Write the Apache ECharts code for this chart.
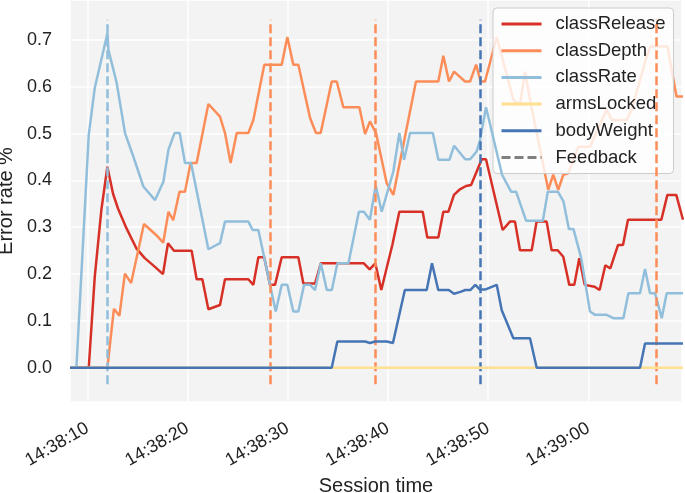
<!DOCTYPE html>
<html><head><meta charset="utf-8">
<script src="https://cdn.jsdelivr.net/npm/echarts@6/dist/echarts.min.js"></script>
<style>html,body{margin:0;padding:0;background:#fff}#c{width:685px;height:493px}</style>
</head><body><div id="c"></div>
<script>
// time in seconds after 14:38:00, value = error rate
const classRelease = [[8.27,0],[10.14,0],[10.74,0.194],[11.4,0.337],[12.0,0.429],[12.56,0.372],[13.06,0.340],[13.9,0.298],[14.89,0.255],[15.73,0.234],[16.72,0.216],[17.55,0.200],[18.05,0.266],[18.65,0.250],[20.41,0.250],[20.91,0.189],[21.48,0.189],[22.08,0.125],[23.24,0.134],[23.74,0.189],[26.07,0.189],[26.57,0.177],[27.07,0.236],[27.65,0.236],[28.23,0.177],[28.73,0.177],[29.4,0.236],[31.06,0.236],[31.56,0.180],[32.73,0.180],[33.3,0.223],[37.6,0.223],[38.18,0.210],[38.74,0.223],[39.34,0.166],[39.94,0.219],[40.44,0.262],[41.14,0.333],[43.47,0.333],[43.93,0.278],[45.03,0.278],[45.53,0.333],[46.03,0.333],[46.59,0.369],[47.19,0.381],[47.79,0.388],[48.3,0.39],[48.86,0.419],[49.36,0.445],[49.79,0.445],[51.45,0.294],[52.18,0.312],[52.68,0.312],[53.18,0.251],[54.35,0.251],[54.84,0.312],[55.84,0.312],[56.34,0.251],[56.94,0.251],[57.5,0.237],[58.1,0.177],[58.6,0.177],[59.1,0.234],[59.64,0.177],[60.63,0.173],[61.13,0.166],[61.7,0.219],[62.2,0.212],[62.96,0.262],[63.46,0.262],[63.96,0.316],[67.29,0.316],[67.89,0.369],[68.78,0.369],[69.45,0.316]];
const classDepth = [[8.27,0],[12.0,0],[12.65,0.126],[13.2,0.111],[13.75,0.201],[14.37,0.181],[15.65,0.307],[16.89,0.283],[17.57,0.267],[18.1,0.333],[18.57,0.315],[19.2,0.376],[19.75,0.376],[20.3,0.437],[20.91,0.437],[22.08,0.563],[23.24,0.536],[23.74,0.501],[24.3,0.437],[24.91,0.501],[26.07,0.501],[26.57,0.529],[27.66,0.647],[29.4,0.647],[29.96,0.706],[30.56,0.647],[31.06,0.647],[32.23,0.533],[32.82,0.501],[33.29,0.501],[34.39,0.611],[34.89,0.611],[35.55,0.556],[37.15,0.556],[37.72,0.499],[38.21,0.526],[38.81,0.501],[39.88,0.394],[40.54,0.369],[42.8,0.611],[45.03,0.611],[45.53,0.666],[46.1,0.611],[46.6,0.632],[47.7,0.611],[48.2,0.611],[48.8,0.647],[49.26,0.611],[49.69,0.611],[50.86,0.706],[52.52,0.572],[53.18,0.561],[53.68,0.632],[54.18,0.572],[56.0,0.380],[56.5,0.412],[57.0,0.380],[57.5,0.412],[58.0,0.415],[59.0,0.472],[60.17,0.472],[60.84,0.504],[61.84,0.551],[62.34,0.529],[63.83,0.529],[64.33,0.551],[65.83,0.665],[66.2,0.686],[67.9,0.686],[68.8,0.579],[69.45,0.579]];
const classRate = [[8.27,0],[8.91,0],[10.14,0.497],[10.74,0.597],[12.01,0.714],[12.10,0.679],[12.93,0.608],[13.76,0.501],[14.59,0.451],[15.59,0.387],[16.76,0.358],[17.59,0.397],[18.09,0.465],[18.70,0.501],[19.22,0.501],[19.75,0.437],[20.35,0.437],[22.08,0.253],[23.24,0.266],[23.74,0.312],[26.07,0.312],[26.5,0.294],[27.07,0.294],[28.8,0.120],[29.4,0.177],[29.96,0.177],[30.56,0.120],[31.06,0.120],[31.63,0.177],[32.23,0.177],[32.73,0.166],[33.3,0.223],[33.9,0.166],[34.4,0.166],[34.96,0.223],[36.06,0.223],[37.1,0.333],[37.6,0.333],[38.2,0.316],[38.78,0.389],[39.38,0.333],[40.54,0.419],[41.14,0.501],[41.61,0.444],[42.21,0.501],[44.48,0.501],[45.04,0.444],[46.14,0.444],[46.61,0.474],[47.71,0.445],[48.21,0.445],[48.86,0.462],[49.19,0.486],[49.79,0.556],[51.39,0.412],[52.29,0.376],[52.79,0.376],[53.79,0.314],[55.46,0.314],[55.96,0.376],[56.96,0.376],[57.52,0.355],[58.06,0.296],[58.52,0.296],[59.29,0.234],[60.17,0.120],[60.67,0.113],[61.84,0.113],[62.5,0.106],[63.5,0.106],[64.0,0.159],[65.16,0.159],[65.66,0.211],[66.16,0.159],[66.66,0.159],[67.33,0.106],[67.82,0.159],[69.45,0.159]];
const armsLocked = [[8.27,0],[69.45,0]];
const bodyWeight = [[8.27,0],[34.39,0],[34.95,0.056],[37.72,0.056],[38.22,0.053],[38.72,0.056],[39.88,0.056],[40.5,0.053],[41.69,0.166],[43.87,0.166],[44.4,0.223],[45.02,0.166],[46.07,0.166],[46.6,0.158],[47.23,0.162],[47.73,0.166],[48.22,0.166],[48.72,0.177],[49.19,0.167],[49.69,0.167],[50.86,0.177],[51.36,0.123],[52.52,0.063],[54.18,0.063],[54.85,0],[65.16,0],[65.66,0.052],[69.45,0.052]];
const feedbackTimes = [12.0, 28.26, 38.78, 49.24, 66.78];
const feedbackTargets = ['classRate','classDepth','classDepth','bodyWeight','classDepth'];
const feedbackRange = [-0.035, 0.743];
const seriesNames = ['classRelease','classDepth','classRate','armsLocked','bodyWeight'];
const seriesData = [classRelease, classDepth, classRate, armsLocked, bodyWeight];
const colors = {classRelease:'#d73027', classDepth:'#fc8d59', classRate:'#91bfdb', armsLocked:'#fee090', bodyWeight:'#4575b4'};
const xRange = [8.27, 69.35];
const yRange = [-0.073, 0.785];

function fmtTime(s){
  const tt = 14*3600 + 38*60 + Math.round(s);
  const h = Math.floor(tt/3600), m = Math.floor((tt%3600)/60), sec = tt%60;
  const p = n => (n<10?'0':'')+n;
  return h+':'+p(m)+':'+p(sec);
}
const FONT = 'Liberation Sans, Arial, sans-serif';
const chart = echarts.init(document.getElementById('c'), null, {renderer:'canvas'});
const series = seriesNames.map((n,i)=>({
  name:n, type:'line', data:seriesData[i], showSymbol:false, symbol:'none',
  lineStyle:{color:colors[n], width:2.5}, itemStyle:{color:colors[n]}, z:2+i, animation:false
}));
series.push({
  name:'Feedback', type:'line', data:[], symbol:'none',
  lineStyle:{color:'#808080', width:2.5, type:[9,4]}, itemStyle:{color:'#808080'}, z:10,
  markLine:{
    silent:true, symbol:['none','none'], label:{show:false}, animation:false,
    data: feedbackTimes.map((t,i)=>[
      {coord:[t, feedbackRange[0]], lineStyle:{color:colors[feedbackTargets[i]], width:2.5, type:[9,4]}},
      {coord:[t, feedbackRange[1]]}
    ])
  }
});
chart.setOption({
  animation:false,
  textStyle:{fontFamily:FONT},
  grid:{left:70, right:3, top:0, bottom:91, show:true, backgroundColor:'#f3f3f3', borderWidth:0,
        containLabel:false, outerBoundsMode:'none'},
  legend:{
    orient:'vertical', left:493, top:8, padding:[6,8,6,7],
    backgroundColor:'rgba(255,255,255,0.8)', borderColor:'#cccccc', borderWidth:1, borderRadius:4,
    itemWidth:40, itemHeight:20, itemGap:6.7,
    itemStyle:{opacity:0, borderWidth:0},
    lineStyle:{width:3},
    textStyle:{fontSize:18.5, color:'#222', fontFamily:FONT, padding:[0,0,0,9], lineHeight:20},
    data:['classRelease','classDepth','classRate','armsLocked','bodyWeight','Feedback']
  },
  xAxis:{
    type:'value', min:xRange[0], max:xRange[1], minInterval:10, maxInterval:10,
    name:'Session time', nameLocation:'middle', nameGap:72,
    nameTextStyle:{fontSize:20, color:'#222', fontFamily:FONT},
    axisLine:{show:false}, axisTick:{show:false},
    splitLine:{show:true, lineStyle:{color:'#ffffff', width:1.5}},
    axisLabel:{rotate:30, fontSize:18, color:'#222', margin:25, showMinLabel:false, showMaxLabel:false,
      formatter:v=>fmtTime(v), fontFamily:FONT}
  },
  yAxis:{
    type:'value', min:yRange[0], max:yRange[1], minInterval:0.1, maxInterval:0.1,
    name:'Error rate %', nameLocation:'middle', nameGap:47,
    nameTextStyle:{fontSize:20, color:'#222', fontFamily:FONT},
    axisLine:{show:false}, axisTick:{show:false},
    splitLine:{show:true, lineStyle:{color:'#ffffff', width:1.5}},
    axisLabel:{fontSize:18, color:'#222', margin:18, showMinLabel:false, showMaxLabel:false,
      formatter:v=>v.toFixed(1), fontFamily:FONT}
  },
  series:series
});
</script></body></html>
